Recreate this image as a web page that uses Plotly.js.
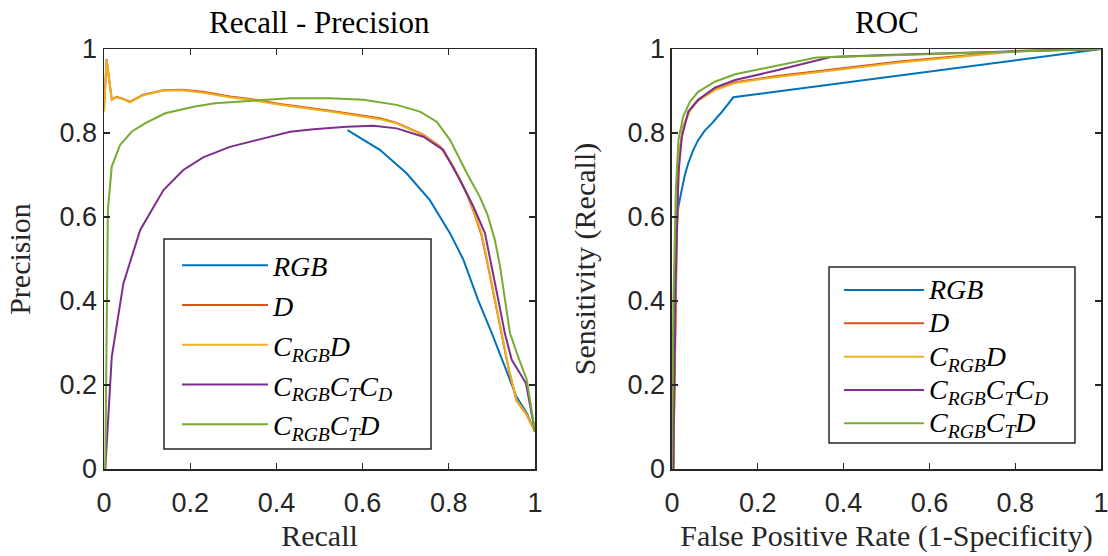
<!DOCTYPE html>
<html>
<head>
<meta charset="utf-8">
<script src="https://cdn.plot.ly/plotly-3.0.1.min.js"></script>
<style>html,body{margin:0;padding:0;background:#fff;}#chart{width:1108px;height:556px;}</style>
</head>
<body>
<div id="chart"></div>
<script>
// ---------- Series names & colours ----------
const seriesNames = ['<i>RGB</i>', '<i>D</i>', '<i>C</i><sub><i>RGB</i></sub><i>D</i>',
  '<i>C</i><sub><i>RGB</i></sub><i>C</i><sub><i>T</i></sub><i>C</i><sub><i>D</i></sub>',
  '<i>C</i><sub><i>RGB</i></sub><i>C</i><sub><i>T</i></sub><i>D</i>'];
const seriesColors = ['#0072BD', '#D95319', '#EDB120', '#7E2F8E', '#77AC30'];

// ---------- Recall - Precision (left) ----------
const prRecall_RGB = [0.565, 0.640, 0.702, 0.756, 0.803, 0.834, 0.868, 0.900, 0.930, 0.957, 0.981, 1.000];
const prPrec_RGB   = [0.807, 0.760, 0.704, 0.640, 0.561, 0.498, 0.402, 0.323, 0.244, 0.172, 0.133, 0.089];

const prRecall_D = [0.000, 0.006, 0.018, 0.029, 0.045, 0.060, 0.091, 0.138, 0.180, 0.230, 0.292, 0.339, 0.408, 0.524, 0.640, 0.679, 0.741, 0.780, 0.810, 0.842, 0.858, 0.876, 0.892, 0.907, 0.923, 0.938, 0.957, 0.981, 1.000];
const prPrec_D   = [0.853, 0.976, 0.880, 0.886, 0.881, 0.874, 0.891, 0.902, 0.903, 0.898, 0.887, 0.881, 0.869, 0.853, 0.835, 0.824, 0.796, 0.768, 0.721, 0.654, 0.612, 0.556, 0.478, 0.398, 0.320, 0.242, 0.163, 0.128, 0.089];

const prRecall_CrgbD = [0.000, 0.006, 0.018, 0.029, 0.045, 0.060, 0.091, 0.138, 0.180, 0.230, 0.292, 0.339, 0.408, 0.524, 0.640, 0.679, 0.741, 0.780, 0.810, 0.842, 0.858, 0.876, 0.892, 0.907, 0.923, 0.938, 0.957, 0.981, 1.000];
const prPrec_CrgbD   = [0.851, 0.974, 0.879, 0.885, 0.880, 0.873, 0.890, 0.901, 0.902, 0.896, 0.885, 0.879, 0.867, 0.851, 0.833, 0.823, 0.795, 0.767, 0.720, 0.656, 0.615, 0.561, 0.482, 0.402, 0.323, 0.244, 0.164, 0.129, 0.089];

const prRecall_CrgbCtCd = [0.003, 0.018, 0.045, 0.084, 0.138, 0.184, 0.230, 0.292, 0.354, 0.432, 0.486, 0.563, 0.625, 0.679, 0.741, 0.787, 0.826, 0.857, 0.884, 0.900, 0.915, 0.930, 0.946, 0.965, 0.979, 1.000];
const prPrec_CrgbCtCd   = [0.000, 0.267, 0.442, 0.569, 0.664, 0.712, 0.742, 0.767, 0.783, 0.803, 0.809, 0.815, 0.817, 0.811, 0.791, 0.760, 0.688, 0.625, 0.561, 0.482, 0.402, 0.323, 0.260, 0.228, 0.204, 0.089];

const prRecall_CrgbCtD = [0.003, 0.009, 0.018, 0.037, 0.064, 0.095, 0.142, 0.211, 0.258, 0.316, 0.370, 0.432, 0.524, 0.602, 0.679, 0.733, 0.772, 0.803, 0.842, 0.872, 0.890, 0.907, 0.919, 0.930, 0.942, 0.961, 0.981, 1.000];
const prPrec_CrgbCtD   = [0.000, 0.617, 0.720, 0.771, 0.803, 0.823, 0.847, 0.863, 0.871, 0.875, 0.880, 0.883, 0.883, 0.879, 0.867, 0.851, 0.827, 0.783, 0.704, 0.648, 0.605, 0.545, 0.482, 0.402, 0.323, 0.267, 0.212, 0.089];

// ---------- ROC (right) ----------
const rocFpr_RGB = [0.003, 0.005, 0.0086, 0.015, 0.0226, 0.030, 0.038, 0.049, 0.061, 0.076, 0.093, 0.116, 0.143, 1.000];
const rocTpr_RGB = [0.000, 0.350, 0.560, 0.625, 0.664, 0.700, 0.728, 0.758, 0.783, 0.805, 0.823, 0.850, 0.885, 1.000];

const rocFpr_D = [0.003, 0.007, 0.011, 0.016, 0.026, 0.042, 0.061, 0.100, 0.147, 0.240, 0.337, 0.531, 0.810, 1.000];
const rocTpr_D = [0.000, 0.307, 0.545, 0.744, 0.815, 0.855, 0.879, 0.904, 0.921, 0.935, 0.947, 0.970, 0.996, 1.000];

const rocFpr_CrgbD = [0.003, 0.007, 0.011, 0.016, 0.026, 0.042, 0.061, 0.100, 0.147, 0.240, 0.337, 0.531, 0.810, 1.000];
const rocTpr_CrgbD = [0.000, 0.305, 0.543, 0.742, 0.813, 0.853, 0.877, 0.902, 0.919, 0.933, 0.945, 0.968, 0.995, 1.000];

const rocFpr_CrgbCtCd = [0.003, 0.009, 0.015, 0.023, 0.038, 0.061, 0.100, 0.147, 0.240, 0.337, 0.370, 0.500, 1.000];
const rocTpr_CrgbCtCd = [0.000, 0.466, 0.704, 0.791, 0.851, 0.879, 0.908, 0.926, 0.948, 0.972, 0.981, 0.986, 1.000];

const rocFpr_CrgbCtD = [0.000, 0.003, 0.009, 0.015, 0.026, 0.042, 0.061, 0.100, 0.147, 0.240, 0.337, 0.531, 1.000];
const rocTpr_CrgbCtD = [0.000, 0.386, 0.664, 0.783, 0.839, 0.875, 0.898, 0.922, 0.940, 0.960, 0.980, 0.986, 1.000];

// ---------- Ticks ----------
const tickVals = [0, 0.2, 0.4, 0.6, 0.8, 1];
const tickText = ['0', '0.2', '0.4', '0.6', '0.8', '1'];

const prX = [prRecall_RGB, prRecall_D, prRecall_CrgbD, prRecall_CrgbCtCd, prRecall_CrgbCtD];
const prY = [prPrec_RGB, prPrec_D, prPrec_CrgbD, prPrec_CrgbCtCd, prPrec_CrgbCtD];
const rocX = [rocFpr_RGB, rocFpr_D, rocFpr_CrgbD, rocFpr_CrgbCtCd, rocFpr_CrgbCtD];
const rocY = [rocTpr_RGB, rocTpr_D, rocTpr_CrgbD, rocTpr_CrgbCtCd, rocTpr_CrgbCtD];

const serif = 'Liberation Serif, Times New Roman, serif';
function legendLabel(s) { return '<span style="font-size:28px">' + s + '</span>'; }

const traces = [];
for (let i = 0; i < 5; i++) {
  traces.push({x: prX[i], y: prY[i], xaxis: 'x', yaxis: 'y', type: 'scatter', mode: 'lines',
    name: legendLabel(seriesNames[i]), legend: 'legend',
    line: {color: seriesColors[i], width: 2}});
}
for (let i = 0; i < 5; i++) {
  traces.push({x: rocX[i], y: rocY[i], xaxis: 'x2', yaxis: 'y2', type: 'scatter', mode: 'lines',
    name: legendLabel(seriesNames[i]), legend: 'legend2',
    line: {color: seriesColors[i], width: 2}});
}

const axisCol = '#262626';
const tickFont = {family: 'Liberation Sans, Arial, sans-serif', size: 27, color: axisCol};
function ax(extra) {
  return Object.assign({
    range: [0, 1], tickvals: tickVals, ticktext: tickText, ticks: 'inside', ticklen: 6,
    tickwidth: 1.3, tickcolor: axisCol, showline: true, linecolor: axisCol, linewidth: 1.5,
    mirror: 'ticks', showgrid: false, zeroline: false, tickfont: tickFont, fixedrange: true,
    ticklabeloverflow: 'allow'
  }, extra);
}
const titleFont = {family: serif, size: 30, color: axisCol};
const legendBase = {
  xref: 'paper', yref: 'paper', xanchor: 'left', yanchor: 'top',
  bgcolor: 'rgba(0,0,0,0)', borderwidth: 0,
  traceorder: 'normal'
};

const layout = {
  width: 1108, height: 556,
  margin: {l: 104, r: 7, t: 49, b: 87},
  paper_bgcolor: '#ffffff', plot_bgcolor: '#ffffff',
  xaxis: ax({domain: [0, 0.4323], anchor: 'y', ticklabelstandoff: 9,
    title: {text: 'Recall', font: titleFont, standoff: 8}}),
  yaxis: ax({domain: [0, 1], anchor: 'x',
    title: {text: 'Precision', font: titleFont, standoff: 20}}),
  xaxis2: ax({domain: [0.5697, 1], anchor: 'y2', ticklabelstandoff: 9,
    title: {text: 'False Positive Rate (1-Specificity)', font: titleFont, standoff: 8}}),
  yaxis2: ax({domain: [0, 1], anchor: 'x2',
    title: {text: 'Sensitivity (Recall)', font: titleFont, standoff: 23}}),
  legend: Object.assign({}, legendBase, {x: 0.0732, y: 0.5446, itemwidth: 86,
    font: {family: serif, size: 28.3, color: '#000'}}),
  legend2: Object.assign({}, legendBase, {x: 0.7372, y: 0.4776, itemwidth: 80,
    font: {family: serif, size: 23.3, color: '#000'}}),
  shapes: [
    {type: 'rect', xref: 'paper', yref: 'paper', x0: 0.0602, x1: 0.328, y0: 0.0476, y1: 0.5476,
     line: {color: axisCol, width: 1.5}, fillcolor: '#ffffff', layer: 'above'},
    {type: 'rect', xref: 'paper', yref: 'paper', x0: 0.7272, x1: 0.9739, y0: 0.0619, y1: 0.481,
     line: {color: axisCol, width: 1.5}, fillcolor: '#ffffff', layer: 'above'}
  ],
  annotations: [
    {text: 'Recall - Precision', xref: 'paper', yref: 'paper', x: 0.2161, y: 1.064,
     xanchor: 'center', yanchor: 'middle', showarrow: false, font: {family: serif, size: 31, color: '#000'}},
    {text: 'ROC', xref: 'paper', yref: 'paper', x: 0.7849, y: 1.064,
     xanchor: 'center', yanchor: 'middle', showarrow: false, font: {family: serif, size: 31, color: '#000'}}
  ],
  showlegend: true
};

Plotly.newPlot('chart', traces, layout, {displayModeBar: false, staticPlot: true});
</script>
</body>
</html>
